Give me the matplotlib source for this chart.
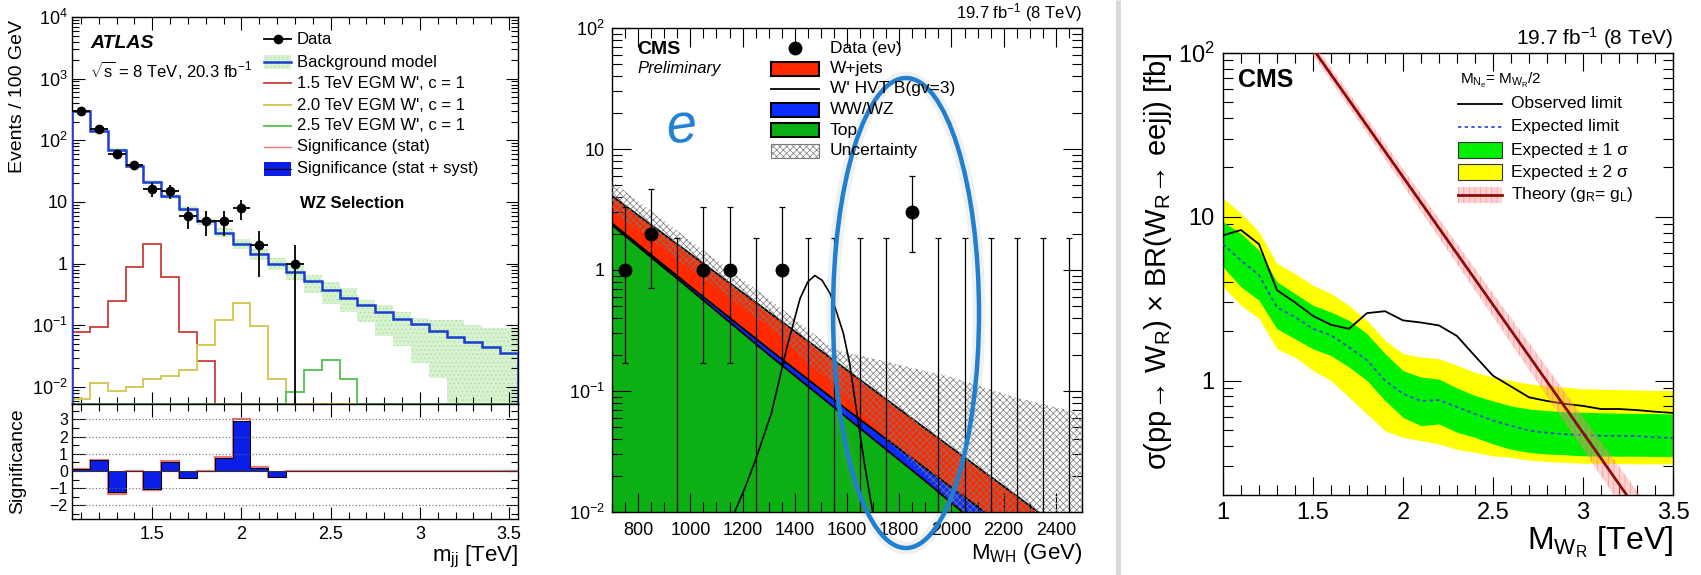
import numpy as np
import matplotlib
matplotlib.use('Agg')
import matplotlib.pyplot as plt
from matplotlib.patches import Rectangle, Ellipse
from matplotlib.ticker import (MultipleLocator, LogLocator, FixedLocator, FuncFormatter,
                               NullFormatter)

plt.rcParams['font.family'] = ['Liberation Sans', 'DejaVu Sans']
plt.rcParams['mathtext.fontset'] = 'custom'
plt.rcParams['mathtext.rm'] = 'Liberation Sans'
plt.rcParams['mathtext.it'] = 'Liberation Sans:italic'
plt.rcParams['mathtext.bf'] = 'Liberation Sans:bold'
plt.rcParams['hatch.linewidth'] = 0.5

W, H = 1701, 575

# ---------------- ATLAS WZ selection (100 GeV bins, 1.05 - 3.55 TeV) ----------------
mjj_edges = np.round(np.arange(1.05, 3.551, 0.1), 2)
bkg = [300, 142, 71, 39, 21, 12.4, 7.6, 4.9, 3.2, 2.05, 1.42, 0.98, 0.72, 0.52, 0.37,
       0.28, 0.21, 0.165, 0.128, 0.104, 0.082, 0.065, 0.053, 0.045, 0.035]
bkg_hi = [315, 150, 75, 41.5, 22.5, 13.5, 8.5, 5.6, 3.8, 2.5, 1.75, 1.25, 0.95, 0.66, 0.51,
          0.40, 0.26, 0.214, 0.167, 0.13, 0.122, 0.12, 0.10, 0.092, 0.09]
bkg_lo = [285, 134, 67, 36.5, 19.5, 11.3, 6.8, 4.2, 2.7, 1.7, 1.15, 0.78, 0.54, 0.33, 0.224,
          0.167, 0.115, 0.066, 0.046, 0.0245, 0.014, 0.001, 0.001, 0.001, 0.001]
wp15 = [0.077, 0.094, 0.25, 0.89, 2.1, 0.6, 0.077, 0.026] + [0] * 17
wp20 = [0.0065, 0.0115, 0.0087, 0.010, 0.0133, 0.015, 0.019, 0.048, 0.12, 0.23, 0.098,
        0.0135] + [0] * 13
wp25 = [0] * 12 + [0.0082, 0.019, 0.0275, 0.0135] + [0] * 9
data_x = [1.1, 1.2, 1.3, 1.4, 1.5, 1.6, 1.7, 1.8, 1.9, 2.0, 2.1, 2.3]
data_n = [300, 150, 60, 40, 16, 15, 6, 5, 5, 8, 2, 1]
data_err = [17, 12, 8, 6, 4, 4, 2.4, 2.2, 2.2, 2.8, 1.4, 1.0]
sig_syst = [0.1, 0.62, -1.2, 0, -1.07, 0.55, -0.39, 0, 0.78, 2.92, 0.2, -0.35] + [0] * 13
sig_stat = [0.1, 0.65, -1.33, 0, -1.12, 0.58, -0.42, 0, 0.8, 3.0, 0.22, -0.37] + [0] * 13

# ---------------- CMS WH (e nu) ----------------
wh_centers = list(range(750, 2500, 100))
wh_n = [1, 2, 0, 1, 1, 0, 1, 0, 0, 0, 0, 3, 0, 0, 0, 0, 0, 0]
wh_lo = [0.17, 0.71, 0, 0.17, 0.17, 0, 0.17, 0, 0, 0, 0, 1.4, 0, 0, 0, 0, 0, 0]
wh_hi = [3.3, 4.7, 1.84, 3.3, 3.3, 1.84, 3.3, 1.84, 1.84, 1.84, 1.84, 6.0,
         1.84, 1.84, 1.84, 1.84, 1.84, 1.84]
bg_m = [700, 1000, 1300, 1600, 1900, 2200, 2500]
bg_top = [2.35, 0.69, 0.20, 0.060, 0.018, 0.0052, 0.0015]
bg_diboson = [2.43, 0.73, 0.223, 0.070, 0.023, 0.0077, 0.0028]
bg_wjets = [4.1, 1.36, 0.45, 0.149, 0.049, 0.0163, 0.0054]
unc_m = [700, 1000, 1300, 1550, 1750, 2000, 2250, 2500]
unc_hi = [5.4, 1.75, 0.58, 0.22, 0.175, 0.13, 0.088, 0.065]
unc_lo = [3.1, 1.02, 0.34, 0.11, 0.04, 0.012, 0.004, 0.0015]
hvt_m = [1140, 1170, 1210, 1250, 1310, 1370, 1420, 1450, 1477, 1505, 1535, 1560, 1586,
         1610, 1636, 1667, 1700, 1720]
hvt_v = [0.0065, 0.010, 0.016, 0.027, 0.065, 0.23, 0.58, 0.80, 0.90, 0.82, 0.64, 0.45,
         0.30, 0.17, 0.070, 0.025, 0.0095, 0.006]

# ---------------- CMS W_R -> eejj limits ----------------
mwr = [1.0, 1.1, 1.2, 1.3, 1.4, 1.5, 1.6, 1.7, 1.8, 1.9, 2.0, 2.1, 2.2, 2.3, 2.4, 2.5,
       2.6, 2.7, 2.8, 2.9, 3.0, 3.1, 3.2, 3.3, 3.4, 3.5]
obs = [7.7, 8.3, 6.8, 3.56, 3.0, 2.48, 2.19, 2.07, 2.58, 2.65, 2.33, 2.26, 2.17, 1.87,
       1.41, 1.07, 0.92, 0.79, 0.75, 0.72, 0.70, 0.67, 0.67, 0.66, 0.645, 0.634]
expd = [6.8, 5.4, 4.4, 2.8, 2.44, 2.07, 1.89, 1.60, 1.33, 1.0, 0.83, 0.75, 0.76, 0.69,
        0.625, 0.57, 0.53, 0.494, 0.48, 0.47, 0.465, 0.46, 0.46, 0.458, 0.45, 0.446]
s1_hi = [9.3, 7.9, 6.25, 4.0, 3.4, 2.88, 2.62, 2.33, 1.93, 1.46, 1.15, 1.05, 1.02, 0.90,
         0.81, 0.75, 0.70, 0.67, 0.655, 0.645, 0.64, 0.635, 0.632, 0.63, 0.628, 0.625]
s1_lo = [4.94, 3.73, 3.09, 2.07, 1.8, 1.56, 1.42, 1.21, 1.0, 0.755, 0.596, 0.53, 0.543,
         0.483, 0.45, 0.41, 0.38, 0.364, 0.356, 0.352, 0.347, 0.346, 0.345, 0.345, 0.344, 0.344]
s2_hi = [13.0, 10.5, 8.1, 5.18, 4.5, 3.82, 3.4, 2.88, 2.33, 1.76, 1.46, 1.39, 1.36, 1.24,
         1.12, 1.05, 1.0, 0.955, 0.93, 0.91, 0.89, 0.885, 0.88, 0.875, 0.87, 0.87]
s2_lo = [3.73, 2.88, 2.39, 1.56, 1.39, 1.15, 1.0, 0.79, 0.625, 0.494, 0.45, 0.43, 0.41,
         0.38, 0.364, 0.347, 0.339, 0.327, 0.32, 0.316, 0.313, 0.312, 0.311, 0.31, 0.31, 0.31]
th_m = [1.5, 2.0, 2.5, 3.0, 3.5]
th = [106, 17.5, 2.9, 0.48, 0.079]
th_hi = [116, 19.6, 3.4, 0.60, 0.105]
th_lo = [97, 15.6, 2.45, 0.38, 0.058]


def px(x0, y0, x1, y1):
    return [x0 / W, 1 - y1 / H, (x1 - x0) / W, (y1 - y0) / H]


def pow_label(v, pos):
    e = int(round(np.log10(v)))
    if e == 0:
        return '1'
    if e == 1:
        return '10'
    return r'$\mathregular{10^{%d}}$' % e


def root_style(ax, size, major, minor, pad):
    ax.tick_params(which='both', direction='in', top=True, right=True,
                   labelsize=size, pad=pad, width=0.8)
    ax.tick_params(which='major', length=major)
    ax.tick_params(which='minor', length=minor)
    for s in ax.spines.values():
        s.set_linewidth(1.0)


def log_axis(ax, lo_exp, hi_exp):
    # only in-range decades carry a label
    ax.set_yscale('log')
    ax.yaxis.set_major_locator(FixedLocator(10.0 ** np.arange(lo_exp, hi_exp + 1)))
    ax.yaxis.set_minor_locator(LogLocator(base=10, subs=np.arange(2, 10), numticks=20))
    ax.yaxis.set_major_formatter(FuncFormatter(pow_label))
    ax.yaxis.set_minor_formatter(NullFormatter())


fig = plt.figure(figsize=(W / 100, H / 100), dpi=100)

# ---------------- left: ATLAS ----------------
ymin1 = 0.0053
ax1 = fig.add_axes(px(72, 17, 518, 404))
log_axis(ax1, -2, 4)
ax1.set_xlim(1.05, 3.55)
ax1.set_ylim(ymin1, 1e4)
ax1.fill_between(mjj_edges, bkg_hi + [bkg_hi[-1]], bkg_lo + [bkg_lo[-1]], step='post',
                 facecolor='#d6f2cf', edgecolor='#aee0a4', hatch='....', lw=0, zorder=1)
for vals, col in [(wp15, '#d04a48'), (wp20, '#d6c85a'), (wp25, '#5cc65c')]:
    v = np.where(np.array(vals) > 0, vals, ymin1)
    ax1.stairs(v, mjj_edges, color=col, lw=1.4, baseline=ymin1, zorder=2)
ax1.stairs(bkg, mjj_edges, color='#1a3ed0', lw=1.8, baseline=1e-6, zorder=3)
ax1.errorbar(data_x, data_n, yerr=[np.array(data_err) * 0.9999, data_err], xerr=0.05,
             fmt='o', color='k', ms=6, lw=1.3, capsize=0, zorder=4)
ax1.xaxis.set_major_locator(MultipleLocator(0.5))
ax1.xaxis.set_minor_locator(MultipleLocator(0.1))
ax1.xaxis.set_major_formatter(NullFormatter())
root_style(ax1, 13, 9, 5, 3)

ax2 = fig.add_axes(px(72, 404, 518, 519))
ax2.set_xlim(1.05, 3.55)
ax2.set_ylim(-2.8, 3.9)
for g in [-2, -1, 1, 2, 3]:
    ax2.axhline(g, color='#666666', lw=0.8, ls=(0, (1, 2)))
ax2.stairs(sig_stat, mjj_edges, color='#e87878', lw=1.6, baseline=0)
ax2.stairs(sig_syst, mjj_edges, fill=True, color='#0b1ee6', baseline=0)
ax2.stairs(sig_syst, mjj_edges, color='k', lw=0.7, baseline=0)
ax2.axhline(0, color='#333333', lw=0.8)
ax2.xaxis.set_major_locator(FixedLocator([1.5, 2.0, 2.5, 3.0, 3.5]))
ax2.xaxis.set_minor_locator(MultipleLocator(0.1))
ax2.xaxis.set_major_formatter(FuncFormatter(lambda v, p: '%g' % v))
ax2.yaxis.set_major_locator(FixedLocator([-2, -1, 0, 1, 2, 3]))
ax2.yaxis.set_minor_locator(MultipleLocator(0.5))
root_style(ax2, 11.5, 9, 5, 3)
ax2.tick_params(axis='x', pad=5, labelsize=13)

# ---------------- middle: CMS WH ----------------
ax3 = fig.add_axes(px(612, 28, 1082, 512))
log_axis(ax3, -2, 2)
ax3.set_xlim(700, 2500)
ax3.set_ylim(0.01, 100)
ax3.fill_between(bg_m, 1e-4, bg_top, color='#0db014', lw=0, zorder=1)
ax3.fill_between(bg_m, bg_top, bg_diboson, color='#0a2cff', lw=0, zorder=1)
ax3.fill_between(bg_m, bg_diboson, bg_wjets, color='#ff2a00', lw=0, zorder=1)
for curve in (bg_top, bg_diboson, bg_wjets):
    ax3.plot(bg_m, curve, color='k', lw=1.3, zorder=2)
ax3.fill_between(unc_m, unc_lo, unc_hi, facecolor='none', edgecolor='#7a7a7a',
                 hatch='xxxxx', lw=0, zorder=3)
ax3.plot(hvt_m, hvt_v, color='k', lw=1.2, zorder=4)
lo_draw = np.where(np.array(wh_lo) > 0, wh_lo, 1e-4)
ax3.vlines(wh_centers, lo_draw, wh_hi, color='k', lw=0.9, zorder=5)
ax3.plot(wh_centers, wh_hi, '_', color='k', ms=5, mew=0.9, zorder=5)
nz = [i for i, n in enumerate(wh_n) if n > 0]
ax3.plot([wh_centers[i] for i in nz], [wh_lo[i] for i in nz], '_', color='k', ms=5,
         mew=0.9, zorder=5)
ax3.plot([wh_centers[i] for i in nz], [wh_n[i] for i in nz], 'o', color='k', ms=9, zorder=6)
ax3.xaxis.set_major_locator(FixedLocator(list(range(800, 2401, 200))))
ax3.xaxis.set_minor_locator(MultipleLocator(50))
ax3.xaxis.set_major_formatter(FuncFormatter(lambda v, p: '%d' % v))
root_style(ax3, 13, 14, 7, 5)
ax3.tick_params(axis='x', pad=7)

# ---------------- right: CMS W_R limits ----------------
ax4 = fig.add_axes(px(1223, 53, 1673, 495))
log_axis(ax4, 0, 2)
ax4.set_xlim(1, 3.5)
ax4.set_ylim(0.2, 100)
ax4.fill_between(mwr, s2_lo, s2_hi, color='#ffff00', lw=0, zorder=1)
ax4.fill_between(mwr, s1_lo, s1_hi, color='#00f000', lw=0, zorder=2)
ax4.plot(mwr, expd, color='#2b3fd6', lw=1.2, ls=(0, (2, 2)), zorder=3)
ax4.plot(mwr, obs, color='k', lw=1.3, zorder=4)
ax4.fill_between(th_m, th_lo, th_hi, facecolor=(1.0, 0.55, 0.55, 0.40),
                 edgecolor=(0.9, 0.3, 0.3, 0.45), hatch='|||', lw=0, zorder=5)
ax4.plot(th_m, th, color='#8c0c0c', lw=2, zorder=6)
ax4.xaxis.set_major_locator(FixedLocator([1.0, 1.5, 2.0, 2.5, 3.0, 3.5]))
ax4.xaxis.set_minor_locator(MultipleLocator(0.1))
ax4.xaxis.set_major_formatter(FuncFormatter(lambda v, p: '%g' % v))
root_style(ax4, 17, 13, 7, 6)
ax4.tick_params(axis='x', pad=5)

# ---------------- overlay in pixel coordinates ----------------
ov = fig.add_axes([0, 0, 1, 1], zorder=10)
ov.set_xlim(0, W)
ov.set_ylim(H, 0)
ov.axis('off')

ov.plot([1118, 1118], [0, H], color='#d8d8d8', lw=3.5, solid_capstyle='butt')

# ATLAS labels and legend
ov.text(18, 20, 'Events / 100 GeV', rotation=90, ha='center', va='top', fontsize=14)
ov.text(18, 461, 'Significance', rotation=90, ha='center', va='center', fontsize=14)
ov.text(518, 557, r'm$_\mathregular{jj}$ [TeV]', ha='right', va='center', fontsize=16)
ov.text(90, 43, 'ATLAS', ha='left', va='center', fontsize=14, weight='bold', style='italic')
ov.text(90, 70, r'$\sqrt{\mathregular{s}}$ = 8 TeV, 20.3 fb$^{\mathregular{-1}}$',
        ha='left', va='center', fontsize=12)
ov.text(300, 203, 'WZ Selection', ha='left', va='center', fontsize=12, weight='bold')
atl_rows = [39, 62, 83, 105, 126, 147, 169]
atl_text = ['Data', 'Background model', "1.5 TeV EGM W', c = 1", "2.0 TeV EGM W', c = 1",
            "2.5 TeV EGM W', c = 1", 'Significance (stat)', 'Significance (stat + syst)']
for y, t in zip(atl_rows, atl_text):
    ov.text(297, y, t, ha='left', va='center', fontsize=12)
ov.plot([264, 291], [39, 39], color='k', lw=1.3)
ov.plot([277.5], [39], 'o', color='k', ms=6)
ov.add_patch(Rectangle((264, 55), 27, 14, facecolor='#d6f2cf', edgecolor='#aee0a4',
                       hatch='....', lw=0))
ov.plot([264, 291], [62, 62], color='#1a3ed0', lw=1.8)
for y, col in [(83, '#d04a48'), (105, '#d6c85a'), (126, '#5cc65c')]:
    ov.plot([264, 291], [y, y], color=col, lw=1.4)
ov.plot([264, 291], [147, 147], color='#e87878', lw=1.0)
ov.add_patch(Rectangle((264, 162), 27, 14, facecolor='#0b1ee6', lw=0))
ov.plot([264, 291], [169, 169], color='k', lw=0.8)

# middle labels and legend
ov.text(1082, 13, r'19.7 fb$^{\mathregular{-1}}$ (8 TeV)', ha='right', va='center', fontsize=12)
ov.text(1082, 553, r'M$_\mathregular{WH}$ (GeV)', ha='right', va='center', fontsize=16)
ov.text(637, 50, 'CMS', ha='left', va='center', fontsize=14, weight='bold')
ov.text(637, 69, 'Preliminary', ha='left', va='center', fontsize=12, style='italic')
mid_rows = [48, 69, 89, 110, 130, 151]
mid_text = ['Data (e\u03bd)', 'W+jets', "W' HVT B(gv=3)", 'WW/WZ', 'Top', 'Uncertainty']
for y, t in zip(mid_rows, mid_text):
    ov.text(830, y, t, ha='left', va='center', fontsize=12.5)
ov.plot([795], [48], 'o', color='k', ms=9)
for y, col in [(69, '#ff2a00'), (110, '#0a2cff'), (130, '#0db014')]:
    ov.add_patch(Rectangle((771, y - 7), 48, 14, facecolor=col, edgecolor='k', lw=1.5))
ov.plot([771, 819], [89, 89], color='k', lw=1.3)
ov.add_patch(Rectangle((771, 144), 48, 14, facecolor='white', edgecolor='#7a7a7a',
                       hatch='xxxxx', lw=0.8))
ov.text(681, 128, 'e', ha='center', va='center', fontsize=40, style='italic',
        color='#1f7fd1', rotation=8)
ov.add_patch(Ellipse((906, 313), 146, 470, facecolor='none', edgecolor='#888888',
                     lw=9, alpha=0.12))
ov.add_patch(Ellipse((906, 313), 146, 470, facecolor='none', edgecolor='#1f7fd1', lw=3.2))

# right labels and legend
ov.text(1673, 38, r'19.7 fb$^{\mathregular{-1}}$ (8 TeV)', ha='right', va='center', fontsize=15)
ov.text(1673, 542, r'M$_{\mathregular{W_R}}$ [TeV]', ha='right', va='center', fontsize=23)
ov.text(1158, 52, 'σ(pp\u2192 W$_\\mathregular{R}$) × BR(W$_\\mathregular{R}$\u2192 eejj) [fb]',
        rotation=90, ha='center', va='top', fontsize=21)
ov.text(1238, 80, 'CMS', ha='left', va='center', fontsize=18, weight='bold')
ov.text(1460, 80, r'M$_{\mathregular{N_e}}$= M$_{\mathregular{W_R}}$/2', ha='left',
        va='center', fontsize=11)
r_rows = [104, 127, 150, 172, 195]
r_text = ['Observed limit', 'Expected limit', 'Expected ± 1 σ',
          'Expected ± 2 σ', r'Theory (g$_\mathregular{R}$= g$_\mathregular{L}$)']
for y, t in zip(r_rows, r_text):
    ov.text(1511, y, t, ha='left', va='center', fontsize=12.5)
ov.plot([1458, 1502], [104, 104], color='k', lw=1.3)
ov.plot([1458, 1502], [127, 127], color='#2b3fd6', lw=1.2, ls=(0, (2, 2)))
ov.add_patch(Rectangle((1458, 142), 44, 16, facecolor='#00f000', edgecolor='#333333', lw=0.8))
ov.add_patch(Rectangle((1458, 164), 44, 16, facecolor='#ffff00', edgecolor='#333333', lw=0.8))
ov.add_patch(Rectangle((1458, 187), 44, 16, facecolor=(1.0, 0.55, 0.55, 0.40),
                       edgecolor=(0.9, 0.3, 0.3, 0.45), hatch='|||', lw=0))
ov.plot([1458, 1502], [195, 195], color='#8c0c0c', lw=2)

fig.savefig('out.png', dpi=100)
